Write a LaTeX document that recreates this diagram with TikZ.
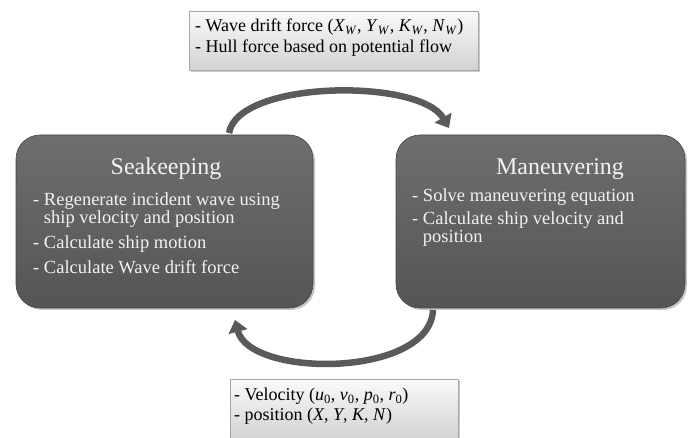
\documentclass[tikz,border=0pt]{standalone}
\usepackage{fontspec}
\setmainfont{Liberation Serif}
\usetikzlibrary{arrows.meta,shadows}
\definecolor{boxtop}{HTML}{6E6E6E}
\definecolor{boxbot}{HTML}{555555}
\definecolor{arrowc}{HTML}{5A5A5A}
\definecolor{lighttop}{HTML}{FAFAFA}
\definecolor{lightbot}{HTML}{D2D2D2}
\newcommand\vsub[2]{\textit{#1}\textsubscript{\textit{#2}}}
\newcommand\nsub[2]{\textit{#1}\textsubscript{#2}}
\begin{document}
\begin{tikzpicture}[x=1pt,y=-1pt,
  darkbox/.style={rounded corners=24pt, top color=boxtop, bottom color=boxbot,
    draw=boxbot!80!black, line width=0.6pt, minimum width=#1, minimum height=173pt,
    drop shadow={opacity=0.45, shadow xshift=2pt, shadow yshift=-2pt}},
  lightbox/.style={top color=lighttop, bottom color=lightbot, draw=gray!70, line width=0.6pt,
    minimum width=#1, minimum height=59pt, inner sep=0pt,
    drop shadow={opacity=0.4, shadow xshift=2pt, shadow yshift=-2pt}},
  title/.style={text=white!95!black, font=\fontsize{24}{26}\selectfont},
  body/.style={text=white!95!black, font=\fontsize{18.5}{18.5}\selectfont, align=left, anchor=north west, inner sep=0pt},
  lbody/.style={text=black, font=\fontsize{18}{21}\selectfont, align=left, anchor=north west, inner sep=0pt},
  flow/.style={draw=arrowc, line width=6.5pt, -{Triangle[width=19pt,length=12pt]}}
]
\useasboundingbox (0,0) rectangle (689,438);

% main boxes
\node[darkbox=297pt] (sk) at (164.5,221.5) {};
\node[darkbox=289pt] (mn) at (540.5,221.5) {};

\node[title] (skt) at (166,169) {Seakeeping};
\node[body] (skb) at (33,192) {- Regenerate incident wave using\\
\hphantom{- }ship velocity and position\\[6.5pt]
- Calculate ship motion\\[6.5pt]
- Calculate Wave drift force};

\node[title] (mnt) at (560,169) {Maneuvering};
\node[body] (mnb) at (412,188) {- Solve maneuvering equation\\[4.5pt]
- Calculate ship velocity and\\
\hphantom{- }position};

% info boxes
\node[lightbox=289pt] (top) at (333.5,40.5) {};
\node[lbody] (topt) at (195,19) {- Wave drift force (\vsub{X}{W}, \vsub{Y}{W}, \vsub{K}{W}, \vsub{N}{W})\\
- Hull force based on potential flow};

\node[lightbox=228pt] (bot) at (344,409) {};
\node[lbody, font=\fontsize{18}{20}\selectfont] (bott) at (234,388) {- Velocity (\nsub{u}{0}, \nsub{v}{0}, \nsub{p}{0}, \nsub{r}{0})\\
- position (\textit{X}, \textit{Y}, \textit{K}, \textit{N})};

% connectors
\coordinate (a1s) at (229,133);
\coordinate (a1e) at (449,128);
\coordinate (a2s) at (433,310);
\coordinate (a2e) at (235,320);
\draw[flow] (a1s) .. controls (238,80) and (420,78) .. (a1e);
\draw[flow] (a2s) .. controls (430,378) and (250,378) .. (a2e);
\end{tikzpicture}
\end{document}
